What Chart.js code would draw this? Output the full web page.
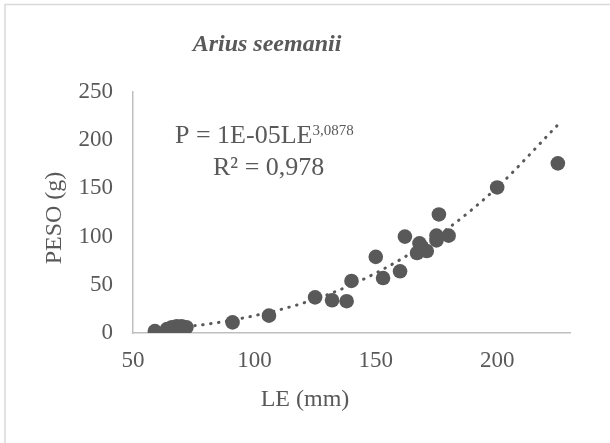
<!DOCTYPE html>
<html>
<head>
<meta charset="utf-8">
<script src="https://cdn.jsdelivr.net/npm/chart.js@4"></script>
<style>
  html, body { margin: 0; padding: 0; background: #ffffff; }
  canvas { display: block; }
</style>
</head>
<body>
<canvas id="c" width="610" height="443"></canvas>
<script>
// Observed data (LE in mm, PESO in g)
const le   = [59, 64, 66, 68, 70, 72, 91, 106, 125, 132, 138, 140, 150, 153, 160, 162, 167, 168, 171, 175, 175, 176, 180, 200, 225];
const peso = [2, 4, 6, 7, 7, 6, 11, 18, 37, 34, 33, 54, 79, 57, 64, 100, 83, 93, 85, 96, 101, 123, 101, 151, 176];

// Trend line
const trendLE   = [59, 80, 100, 120, 140, 160, 180, 200, 225];
const trendPeso = [4, 9, 18, 31, 50, 76, 109, 151, 216];

// Tick labels
const xTicks = [50, 100, 150, 200];
const yTicks = [0, 50, 100, 150, 200, 250];

const titleText = 'Arius seemanii';
const xTitle = 'LE (mm)';
const yTitle = 'PESO (g)';
const eqMain = 'P = 1E-05LE';
const eqExp = '3,0878';
const eqR2 = 'R² = 0,978';

const GREY = '#595959';
const FONT = '"Liberation Serif", "Times New Roman", serif';

Chart.defaults.font.family = FONT;
Chart.defaults.color = GREY;

const frame = {
  id: 'frame',
  beforeDraw(chart) {
    const ctx = chart.ctx;
    ctx.save();
    ctx.fillStyle = '#ffffff';
    ctx.fillRect(0, 0, chart.width, chart.height);
    ctx.strokeStyle = '#D9D9D9';
    ctx.lineWidth = 1.5;
    ctx.strokeRect(5, 4.5, 620, 460);
    ctx.restore();
  }
};

const texts = {
  id: 'texts',
  afterDatasetsDraw(chart) {
    const ctx = chart.ctx;
    ctx.save();
    ctx.fillStyle = GREY;
    ctx.textBaseline = 'alphabetic';
    // chart title
    ctx.textAlign = 'center';
    ctx.font = 'italic bold 24px ' + FONT;
    ctx.fillText(titleText, 267, 51);
    // axis titles
    ctx.font = '24px ' + FONT;
    ctx.fillText(xTitle, 305, 406);
    ctx.save();
    ctx.translate(55, 218);
    ctx.rotate(-Math.PI / 2);
    ctx.textBaseline = 'middle';
    ctx.fillText(yTitle, 0, 0);
    ctx.restore();
    // equation
    ctx.textAlign = 'left';
    ctx.font = '26px ' + FONT;
    const x1 = 175, y1 = 143;
    ctx.fillText(eqMain, x1, y1);
    const w = ctx.measureText(eqMain).width;
    ctx.font = '15px ' + FONT;
    ctx.fillText(eqExp, x1 + w, y1 - 8);
    ctx.font = '26px ' + FONT;
    ctx.fillText(eqR2, 213, 175);
    ctx.restore();
  }
};

new Chart(document.getElementById('c'), {
  type: 'scatter',
  data: {
    datasets: [
      {
        label: 'Tendencia',
        data: trendLE.map((x, i) => ({ x: x, y: trendPeso[i] })),
        showLine: true,
        pointRadius: 0,
        borderColor: GREY,
        borderWidth: 3,
        borderDash: [0.5, 7.5],
        borderCapStyle: 'round',
        cubicInterpolationMode: 'monotone',
        fill: false,
        order: 0
      },
      {
        label: 'Datos',
        data: le.map((x, i) => ({ x: x, y: peso[i] })),
        pointRadius: 7.3,
        pointHoverRadius: 7.3,
        backgroundColor: GREY,
        borderColor: GREY,
        borderWidth: 0,
        order: 1
      }
    ]
  },
  options: {
    responsive: false,
    animation: false,
    devicePixelRatio: 1,
    layout: { padding: { left: 0, right: 40, top: 92, bottom: 0 } },
    plugins: {
      legend: { display: false },
      tooltip: { enabled: false },
      title: { display: false }
    },
    scales: {
      x: {
        type: 'linear',
        min: 50,
        max: 230,
        grid: { display: false, drawTicks: false },
        border: { display: true, color: '#BFBFBF', width: 1.5 },
        ticks: { font: { size: 23 }, color: GREY, padding: 14 },
        afterBuildTicks(scale) { scale.ticks = xTicks.map(v => ({ value: v })); },
        afterFit(scale) { scale.height = 110; },
        title: { display: false, text: xTitle }
      },
      y: {
        type: 'linear',
        min: 0,
        max: 250,
        grid: { display: false, drawTicks: false },
        border: { display: true, color: '#BFBFBF', width: 1.5 },
        ticks: { font: { size: 23 }, color: GREY, padding: 20 },
        afterBuildTicks(scale) { scale.ticks = yTicks.map(v => ({ value: v })); },
        afterFit(scale) { scale.width = 133; },
        title: { display: false, text: yTitle }
      }
    }
  },
  plugins: [frame, texts]
});
</script>
</body>
</html>
